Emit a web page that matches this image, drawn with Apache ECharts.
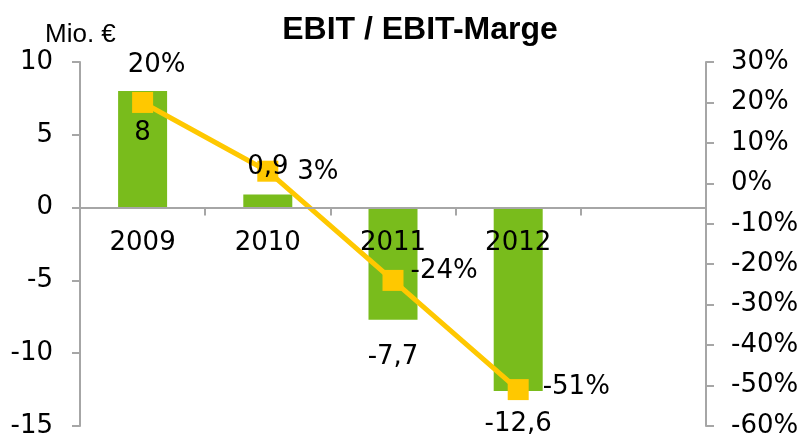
<!DOCTYPE html>
<html>
<head>
<meta charset="utf-8">
<script src="https://cdn.jsdelivr.net/npm/echarts@6/dist/echarts.min.js"></script>
<style>
  html, body { margin: 0; padding: 0; background: #fff; }
  #main { width: 809px; height: 437px; }
</style>
</head>
<body>
<div id="main"></div>
<script>
// Daten
const years = ['2009', '2010', '2011', '2012', ''];
const ebit = [8, 0.9, -7.7, -12.6];        // Mio. €
const marge = [20, 3, -24, -51];           // EBIT-Marge in %

const axisGrey = '#a6a6a6';
const barGreen = '#79bc1c';
const lineYellow = '#ffc800';
const bodyFont = 'DejaVu Sans';

// Label-Platzierung je Punkt
const barLabelCfg = [
  { position: 'insideTop', distance: 29 },
  { position: 'top', distance: 14 },
  { position: 'bottom', distance: 25 },
  { position: 'bottom', distance: 20 }
];
const lineLabelCfg = [
  { position: 'top', distance: 14, offset: [14, 0] },
  { position: 'right', distance: 19, offset: [0, 1] },
  { position: 'right', distance: 7, offset: [0, -9] },
  { position: 'right', distance: 14, offset: [0, -2] }
];

const fmtComma = v => String(v).replace('.', ',');

const chart = echarts.init(document.getElementById('main'), null, { renderer: 'canvas' });

const option = {
  backgroundColor: '#ffffff',
  animation: false,
  title: [
    {
      text: 'EBIT / EBIT-Marge',
      left: 415,
      top: 9,
      textAlign: 'center',
      textStyle: { fontFamily: 'Liberation Sans', fontWeight: 'bold', fontSize: 32, color: '#000' }
    },
    {
      text: 'Mio. €',
      left: 40,
      top: 17,
      textStyle: { fontFamily: 'Liberation Sans', fontWeight: 'normal', fontSize: 26, color: '#000' }
    }
  ],
  grid: { left: 80, right: 103, top: 62, bottom: 11, containLabel: false, outerBoundsMode: 'none' },
  xAxis: {
    type: 'category',
    data: years,
    z: 10,
    axisLine: { onZero: true, onZeroAxisIndex: 0, lineStyle: { color: axisGrey, width: 2 } },
    axisTick: { show: true, length: 8, alignWithLabel: false, lineStyle: { color: axisGrey, width: 2 } },
    // Beschriftung sitzt unter der Nulllinie, nicht am Rand
    axisLabel: { margin: -196, fontFamily: bodyFont, fontSize: 26, color: '#000' },
    splitLine: { show: false }
  },
  yAxis: [
    {
      type: 'value',
      min: -15,
      max: 10,
      interval: 5,
      axisLine: { show: true, lineStyle: { color: axisGrey, width: 2 } },
      axisTick: { show: true, length: 8, lineStyle: { color: axisGrey, width: 2 } },
      axisLabel: { margin: 27, fontFamily: bodyFont, fontSize: 26, color: '#000' },
      splitLine: { show: false }
    },
    {
      type: 'value',
      min: -60,
      max: 30,
      interval: 10,
      position: 'right',
      axisLine: { show: true, lineStyle: { color: axisGrey, width: 2 } },
      axisTick: { show: true, length: 8, lineStyle: { color: axisGrey, width: 2 } },
      axisLabel: { margin: 25, fontFamily: bodyFont, fontSize: 26, color: '#000', formatter: '{value}%' },
      splitLine: { show: false }
    }
  ],
  series: [
    {
      name: 'EBIT',
      type: 'bar',
      yAxisIndex: 0,
      barWidth: 49,
      z: 2,
      itemStyle: { color: barGreen },
      data: ebit
    },
    {
      name: 'EBIT-Marge',
      type: 'line',
      yAxisIndex: 1,
      z: 3,
      symbol: 'rect',
      symbolSize: 21,
      lineStyle: { color: lineYellow, width: 5 },
      itemStyle: { color: lineYellow },
      label: {
        show: true,
        fontFamily: bodyFont,
        fontSize: 26,
        color: '#000',
        formatter: p => p.value + '%'
      },
      data: marge.map((v, i) => ({ value: v, label: lineLabelCfg[i] }))
    },
    {
      // transparente Kopie der Balken, nur fuer die Wertebeschriftung ueber der Linie
      name: 'EBIT-Werte',
      type: 'bar',
      yAxisIndex: 0,
      barWidth: 49,
      barGap: '-100%',
      z: 4,
      silent: true,
      itemStyle: { color: 'rgba(0,0,0,0)' },
      label: {
        show: true,
        fontFamily: bodyFont,
        fontSize: 26,
        color: '#000',
        formatter: p => fmtComma(p.value)
      },
      data: ebit.map((v, i) => ({ value: v, label: barLabelCfg[i] }))
    }
  ]
};

chart.setOption(option);
</script>
</body>
</html>
